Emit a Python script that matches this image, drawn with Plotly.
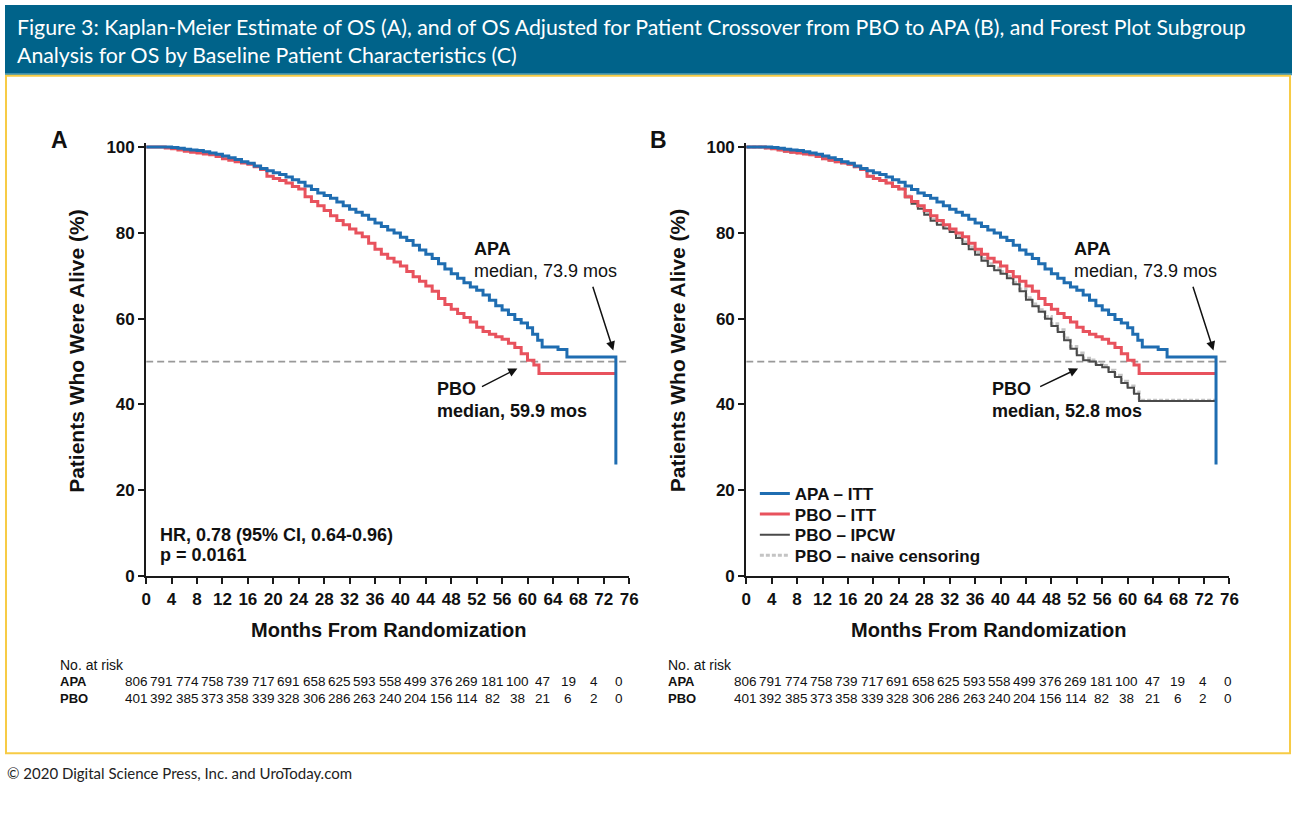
import plotly.graph_objects as go

# ---------------- data ----------------
months_ticks = list(range(0, 77, 4))
y_ticks = [0, 20, 40, 60, 80, 100]

apa_t = [0,1,2,3,4,5,6,7,8,9,10,11,12,13,14,15,16,17,18,19,20,21,22,23,24,25,26,27,28,29,30,
         31,32,33,34,35,36,37,38,39,40,41,42,43,44,45,46,47,48,49,50,51,52,53,54,55,56,57,58,59,60,
         60.8,61.6,62.3,64.8,66.2,73.9]
apa_s = [100,100,100,100,99.9,99.7,99.5,99.3,99.2,98.9,98.6,98.3,97.9,97.5,97.1,96.6,96.2,95.6,95.0,94.5,94.0,
         93.6,93.0,92.4,91.8,90.9,90.1,89.3,88.7,88.1,87.2,86.3,85.5,84.8,84.1,83.2,82.3,81.5,80.7,80.0,79.0,
         78.2,77.1,76.0,75.0,74.0,72.8,71.6,70.5,69.4,68.4,67.4,66.6,65.5,64.3,63.0,62.0,61.0,59.8,59.0,57.9,
         56.4,55.0,53.4,52.8,51.1,26.0]

pbo_t = [0,1,2,3,4,5,6,7,8,9,10,11,12,13,14,15,16,17,18,19,20,21,22,23,24,25,26,27,28,29,30,
         31,32,33,34,35,36,37,38,39,40,41,42,43,44,45,46,47,48,49,50,51,52,53,54,55,56,57,58,59,60,61,61.8,73.9]
pbo_s = [100,100,100,99.8,99.6,99.3,99.0,98.8,98.6,98.4,98.2,97.8,97.3,96.9,96.6,96.3,96.0,95.4,94.8,93.2,92.7,
         92.2,91.6,90.8,90.2,88.4,87.3,86.3,85.2,84.0,82.9,81.9,80.9,80.0,79.1,77.6,76.2,75.0,74.1,73.2,72.3,
         71.0,69.8,68.7,67.6,66.4,64.7,63.3,62.2,61.2,60.3,59.2,58.0,57.0,56.4,55.8,55.2,54.3,53.3,51.8,50.3,
         49.2,47.2,47.2]

ipcw_t = pbo_t
ipcw_s = [100,100,100,99.8,99.6,99.3,99.0,98.8,98.6,98.4,98.2,97.8,97.3,96.9,96.6,96.3,96.0,95.4,94.8,93.2,92.7,
          92.2,91.6,90.8,90.2,88.3,86.8,85.6,84.2,82.8,81.9,81.0,80.2,78.8,77.4,76.2,74.9,73.5,72.3,71.3,70.5,
          69.4,68.0,66.4,64.4,62.9,61.6,60.0,58.3,56.9,55.0,53.0,51.5,50.3,50.0,49.2,48.7,47.6,46.4,45.0,43.9,
          42.5,40.8,40.8]

naive_t = pbo_t
naive_s = [100,100,100,99.8,99.6,99.3,99.0,98.8,98.6,98.4,98.2,97.8,97.3,96.9,96.6,96.3,96.0,95.4,94.8,93.2,92.7,
           92.2,91.6,90.8,90.2,88.6,87.1,85.9,84.6,83.2,82.3,81.4,80.6,79.3,77.9,76.7,75.4,74.0,72.8,71.8,71.0,
           69.9,68.5,66.9,64.9,63.4,62.1,60.5,58.8,57.4,55.5,53.5,52.0,50.8,50.4,49.6,49.1,48.0,46.8,45.4,44.3,
           42.9,41.0,41.0]

risk_apa = [806,791,774,758,739,717,691,658,625,593,558,499,376,269,181,100,47,19,4,0]
risk_pbo = [401,392,385,373,358,339,328,306,286,263,240,204,156,114,82,38,21,6,2,0]

median_level = 50
apa_median = 73.9
pbo_median_a = 59.9
pbo_median_b = 52.8

# ---------------- style ----------------
W, H = 1301, 825
FONT = "Liberation Sans, Arial, sans-serif"
HFONT = "Lato, Open Sans, sans-serif"
BLUE = "#1f6db1"
RED = "#e8525d"
DARK = "#4a4a4a"
LIGHT = "#c4c4c4"
AXC = "#1a1a1a"

def px(x):
    return x / W

def py(y):
    return 1 - y / H

fig = go.Figure()

# Panel A
fig.add_trace(go.Scatter(x=pbo_t, y=pbo_s, mode="lines", line=dict(color=RED, width=3, shape="hv"),
                         xaxis="x", yaxis="y", showlegend=False, hoverinfo="skip"))
fig.add_trace(go.Scatter(x=apa_t, y=apa_s, mode="lines", line=dict(color=BLUE, width=3, shape="hv"),
                         xaxis="x", yaxis="y", showlegend=False, hoverinfo="skip"))

# Panel B (each legend entry in its own legend box so rows can be placed like the original)
fig.add_trace(go.Scatter(x=naive_t, y=naive_s, mode="lines", name="PBO – naive censoring", legend="legend4",
                         line=dict(color=LIGHT, width=3, shape="hv", dash="4px,2px"),
                         xaxis="x2", yaxis="y2", hoverinfo="skip"))
fig.add_trace(go.Scatter(x=ipcw_t, y=ipcw_s, mode="lines", name="PBO – IPCW", legend="legend3",
                         line=dict(color=DARK, width=2, shape="hv"),
                         xaxis="x2", yaxis="y2", hoverinfo="skip"))
fig.add_trace(go.Scatter(x=pbo_t, y=pbo_s, mode="lines", name="PBO – ITT", legend="legend2",
                         line=dict(color=RED, width=3, shape="hv"),
                         xaxis="x2", yaxis="y2", hoverinfo="skip"))
fig.add_trace(go.Scatter(x=apa_t, y=apa_s, mode="lines", name="APA – ITT", legend="legend",
                         line=dict(color=BLUE, width=3, shape="hv"),
                         xaxis="x2", yaxis="y2", hoverinfo="skip"))

# axes geometry (pixels)
x0A, x1A = 142.7, 631.0
x0B, x1B = 749.3, 1237.7
ybot, ytop = 581.7, 581.7 - 101 * 4.37

axis_common = dict(showline=True, linewidth=2, linecolor=AXC, ticks="outside", ticklen=6, tickwidth=2,
                   tickcolor=AXC, showgrid=False, zeroline=False, fixedrange=True,
                   tickfont=dict(family=FONT, size=17, color="#111", weight="bold"))

legend_common = dict(xanchor="left", yanchor="middle", bgcolor="rgba(0,0,0,0)", borderwidth=0,
                     font=dict(family=FONT, size=17, color="#111", weight="bold"), itemwidth=30)

fig.update_layout(
    width=W, height=H, margin=dict(l=0, r=0, t=0, b=0),
    paper_bgcolor="white", plot_bgcolor="white",
    xaxis=dict(domain=[px(x0A), px(x1A)], range=[0, 76], tickvals=months_ticks, anchor="y", **axis_common),
    yaxis=dict(domain=[py(ybot), py(ytop)], range=[0, 101], tickvals=y_ticks, anchor="x", **axis_common),
    xaxis2=dict(domain=[px(x0B), px(x1B)], range=[0, 76], tickvals=months_ticks, anchor="y2", **axis_common),
    yaxis2=dict(domain=[py(ybot), py(ytop)], range=[0, 101], tickvals=y_ticks, anchor="x2", **axis_common),
    showlegend=True,
    legend=dict(x=px(758), y=py(498), **legend_common),
    legend2=dict(x=px(758), y=py(519), **legend_common),
    legend3=dict(x=px(758), y=py(540), **legend_common),
    legend4=dict(x=px(758), y=py(561), **legend_common),
)

shapes = []
# header band
shapes.append(dict(type="rect", xref="paper", yref="paper", x0=0, x1=1, y0=py(70), y1=1,
                   fillcolor="#00638a", line=dict(width=0), layer="below"))
shapes.append(dict(type="line", xref="paper", yref="paper", x0=0, x1=1, y0=py(70.5), y1=py(70.5),
                   line=dict(color="#3c93b0", width=2)))
# yellow border
shapes.append(dict(type="rect", xref="paper", yref="paper", x0=px(1), x1=px(1299), y0=py(762), y1=py(72),
                   line=dict(color="#f7cb45", width=2), fillcolor="rgba(0,0,0,0)"))
# median reference lines
for xr, yr in (("x", "y"), ("x2", "y2")):
    shapes.append(dict(type="line", xref=xr, yref=yr, x0=0, x1=76, y0=median_level, y1=median_level,
                       line=dict(color="#999999", width=1.8, dash="7px,4px"), layer="below"))
fig.update_layout(shapes=shapes)

ann = []
# header (one two-line text block)
ann.append(dict(xref="paper", yref="paper", x=px(10), y=py(37), xanchor="left", yanchor="middle", showarrow=False,
                align="left",
                text="Figure 3: Kaplan-Meier Estimate of OS (A), and of OS Adjusted for Patient Crossover from PBO to APA (B), and Forest Plot Subgroup"
                     "<br>Analysis for OS by Baseline Patient Characteristics (C)",
                font=dict(family=HFONT, size=21.3, color="white")))
ann.append(dict(xref="paper", yref="paper", x=0, y=py(782), xanchor="left", yanchor="middle", showarrow=False,
                text="© 2020 Digital Science Press, Inc. and UroToday.com",
                font=dict(family=HFONT, size=15, color="#222")))

# panel letters
ann.append(dict(xref="paper", yref="paper", x=px(55), y=py(137), xanchor="center", yanchor="middle", showarrow=False,
                text="<b>A</b>", font=dict(family=FONT, size=23, color="#111")))
ann.append(dict(xref="paper", yref="paper", x=px(661), y=py(137), xanchor="center", yanchor="middle", showarrow=False,
                text="<b>B</b>", font=dict(family=FONT, size=23, color="#111")))

# axis titles
for cx, cxx in ((72, 388), (680, 995)):
    ann.append(dict(xref="paper", yref="paper", x=px(cx), y=py(352), xanchor="center", yanchor="middle",
                    showarrow=False, textangle=-90, text="<b>Patients Who Were Alive (%)</b>",
                    font=dict(family=FONT, size=21, color="#111")))
    ann.append(dict(xref="paper", yref="paper", x=px(cxx), y=py(637), xanchor="center", yanchor="middle",
                    showarrow=False, text="<b>Months From Randomization</b>",
                    font=dict(family=FONT, size=20, color="#111")))

# curve labels
for xr, yr, pbo_med, pbo_x, arrow_tail_x, arrow_head_x in (("x", "y", pbo_median_a, 45.5, 52.6, 58.4),
                                                           ("x2", "y2", pbo_median_b, 38.4, 46.0, 52.2)):
    ann.append(dict(xref=xr, yref=yr, x=51.2, y=76.2, xanchor="left", yanchor="middle", showarrow=False,
                    text="<b>APA</b>", font=dict(family=FONT, size=18, color="#111")))
    ann.append(dict(xref=xr, yref=yr, x=51.2, y=71.1, xanchor="left", yanchor="middle", showarrow=False,
                    text=f"median, {apa_median} mos", font=dict(family=FONT, size=18, color="#111")))
    ann.append(dict(xref=xr, yref=yr, axref=xr, ayref=yr, x=73.5, y=52.6, ax=70.2, ay=67.8,
                    showarrow=True, arrowhead=2, arrowsize=1.2, arrowwidth=1.5, arrowcolor="#111", text=""))
    ann.append(dict(xref=xr, yref=yr, x=pbo_x, y=43.7, xanchor="left", yanchor="middle", showarrow=False,
                    text="<b>PBO</b>", font=dict(family=FONT, size=18, color="#111")))
    ann.append(dict(xref=xr, yref=yr, x=pbo_x, y=38.4, xanchor="left", yanchor="middle", showarrow=False,
                    text=f"<b>median, {pbo_med} mos</b>", font=dict(family=FONT, size=18, color="#111")))
    ann.append(dict(xref=xr, yref=yr, axref=xr, ayref=yr, x=arrow_head_x, y=48.4, ax=arrow_tail_x, ay=44.0,
                    showarrow=True, arrowhead=2, arrowsize=1.2, arrowwidth=1.5, arrowcolor="#111", text=""))

# HR text
ann.append(dict(xref="x", yref="y", x=1.9, y=9.7, xanchor="left", yanchor="middle", showarrow=False,
                text="<b>HR, 0.78 (95% CI, 0.64-0.96)</b>", font=dict(family=FONT, size=18, color="#111")))
ann.append(dict(xref="x", yref="y", x=1.9, y=4.9, xanchor="left", yanchor="middle", showarrow=False,
                text="<b>p = 0.0161</b>", font=dict(family=FONT, size=18, color="#111")))

# risk tables
for xr, lx, shift in (("x", 54, -10), ("x2", 668, -1)):
    ann.append(dict(xref="paper", yref="paper", x=px(lx), y=py(672), xanchor="left", yanchor="middle",
                    showarrow=False, text="No. at risk", font=dict(family=FONT, size=14, color="#111")))
    ann.append(dict(xref="paper", yref="paper", x=px(lx), y=py(689), xanchor="left", yanchor="middle",
                    showarrow=False, text="<b>APA</b>", font=dict(family=FONT, size=13, color="#111")))
    ann.append(dict(xref="paper", yref="paper", x=px(lx), y=py(706), xanchor="left", yanchor="middle",
                    showarrow=False, text="<b>PBO</b>", font=dict(family=FONT, size=13, color="#111")))
    for m, a, p in zip(months_ticks, risk_apa, risk_pbo):
        ann.append(dict(xref=xr, yref="paper", x=m, y=py(689), xanchor="center", yanchor="middle",
                        showarrow=False, text=str(a), xshift=shift, font=dict(family=FONT, size=13.5, color="#111")))
        ann.append(dict(xref=xr, yref="paper", x=m, y=py(706), xanchor="center", yanchor="middle",
                        showarrow=False, text=str(p), xshift=shift, font=dict(family=FONT, size=13.5, color="#111")))

fig.update_layout(annotations=ann)
fig.write_html("out.html")
